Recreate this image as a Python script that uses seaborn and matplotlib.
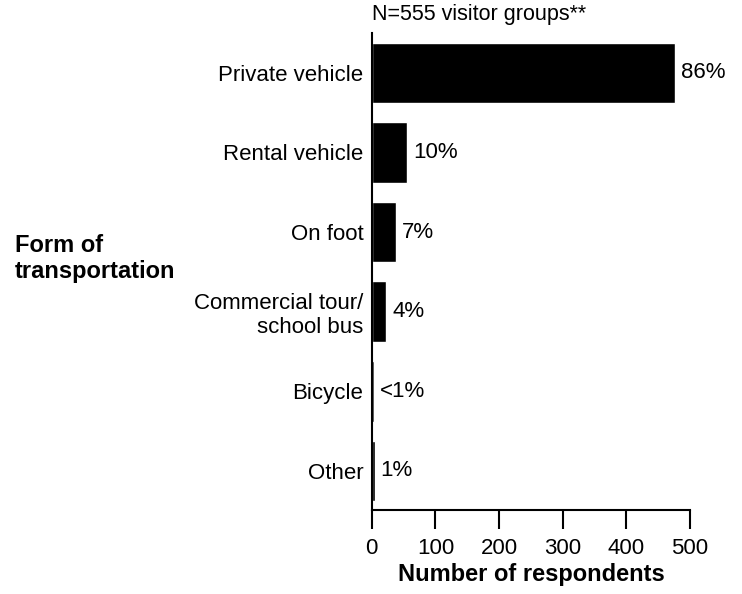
import matplotlib
matplotlib.use("Agg")
import matplotlib.pyplot as plt
import seaborn as sns
import pandas as pd

categories = ["Private vehicle", "Rental vehicle", "On foot",
              "Commercial tour/\nschool bus", "Bicycle", "Other"]
counts = [477, 56, 38, 23, 3, 5]
pct_labels = ["86%", "10%", "7%", "4%", "<1%", "1%"]
x_ticks = [0, 100, 200, 300, 400, 500]

sns.set_style("white")
plt.rcParams["font.family"] = ["Liberation Sans", "DejaVu Sans"]
plt.rcParams["text.color"] = "black"
plt.rcParams["xtick.color"] = "black"
plt.rcParams["ytick.color"] = "black"
plt.rcParams["axes.labelcolor"] = "black"

df = pd.DataFrame({"mode": categories, "count": counts})

fig = plt.figure(figsize=(7.42, 5.94), dpi=100)
ax = fig.add_axes([0.501, 0.1414, 0.429, 0.803])

sns.barplot(data=df, y="mode", x="count", orient="h", color="black",
            width=0.76, saturation=1, ax=ax)

for i, (v, lab) in enumerate(zip(counts, pct_labels)):
    ax.text(v + 9, i, lab, va="center", ha="left", fontsize=16)

ax.set_xlim(0, 500)
ax.set_ylim(5.49, -0.5)
ax.set_xticks(x_ticks)
ax.set_xticklabels([str(t) for t in x_ticks], fontsize=16)
ax.tick_params(axis="x", bottom=True, direction="out", length=14, width=1.5,
               color="black", pad=6)
ax.tick_params(axis="y", left=False, length=0, pad=6, labelsize=16)
for lbl in ax.get_yticklabels():
    lbl.set_horizontalalignment("right")
    lbl.set_multialignment("right")

for side in ("top", "right"):
    ax.spines[side].set_visible(False)
for side in ("left", "bottom"):
    ax.spines[side].set_color("black")
    ax.spines[side].set_linewidth(1.5)

ax.set_ylabel("")
ax.set_xlabel("Number of respondents", fontsize=17, fontweight="bold", labelpad=3)

fig.text(0.501, 0.975, "N=555 visitor groups**", ha="left", va="center", fontsize=15.5)
fig.text(0.02, 0.565, "Form of\ntransportation", ha="left", va="center",
         fontsize=17, fontweight="bold", linespacing=1.17)

fig.savefig("out.png", dpi=100, facecolor="white")
